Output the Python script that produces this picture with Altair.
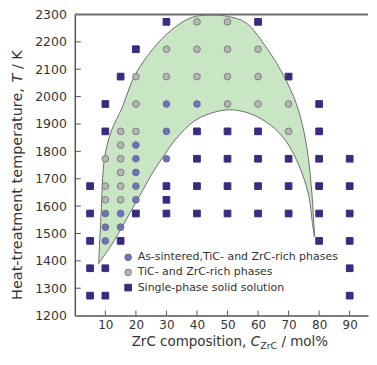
import altair as alt
import pandas as pd

FONT = "DejaVu Sans"

# ---------------- data ----------------
L_BLUE = "As-sintered,TiC- and ZrC-rich phases"
L_GRAY = "TiC- and ZrC-rich phases"
L_SQ = "Single-phase solid solution"

blue_x = [10, 10, 10, 15, 15, 20, 20, 20, 20, 20, 30, 30, 30, 40]
blue_y = [1473, 1523, 1573, 1523, 1573, 1623, 1673, 1723, 1773, 1823, 1773, 1873, 1973, 1973]

gray_x = [10, 10, 10, 15, 15, 15, 15, 15, 15, 20, 20, 20, 30, 30, 40, 40, 40,
          50, 50, 50, 50, 60, 60, 60, 70, 70]
gray_y = [1623, 1673, 1773, 1623, 1673, 1723, 1773, 1823, 1873, 1873, 1973, 2073,
          2073, 2173, 2073, 2173, 2273, 1973, 2073, 2173, 2273, 1973, 2073, 2173,
          1873, 1973]

sq_x = [5, 5, 5, 5, 5, 10, 10, 10, 10, 15, 15, 20, 20, 30, 30, 30, 30,
        40, 40, 40, 40, 50, 50, 50, 50, 60, 60, 60, 60, 60, 70, 70, 70, 70,
        80, 80, 80, 80, 80, 80, 90, 90, 90, 90, 90, 90]
sq_y = [1273, 1373, 1473, 1573, 1673, 1273, 1373, 1873, 1973, 1473, 2073, 1573, 2173,
        1573, 1623, 1673, 2273, 1573, 1673, 1773, 1873, 1573, 1673, 1773, 1873,
        1573, 1673, 1773, 1873, 2273, 1573, 1673, 1773, 2073,
        1473, 1573, 1673, 1773, 1873, 1973, 1273, 1373, 1473, 1573, 1673, 1773]

# two-phase region boundary (outer curve left tip -> right tip, then inner curve back)
outer_x = [7.8, 8.6, 9.7, 11.9, 15.5, 19.5, 25.5, 31.5, 38, 44, 50, 56, 63.1,
           68.5, 72.5, 75, 76.5, 77.6, 78.2, 78.5]
outer_y = [1390, 1570, 1773, 1873, 1960, 2074, 2173, 2242, 2288, 2298, 2293, 2270,
           2173, 2074, 1975, 1873, 1773, 1650, 1550, 1487]
inner_x = [77.8, 76.7, 74.5, 71.8, 68.5, 64.2, 57.6, 50.5, 44, 39, 33.1, 29.5,
           25.5, 21.1, 16.8, 12.4, 7.8]
inner_y = [1537, 1633, 1717, 1787, 1847, 1895, 1937, 1952, 1937, 1910, 1845, 1790,
           1722, 1635, 1550, 1465, 1390]

x_ticks = [10, 20, 30, 40, 50, 60, 70, 80, 90]
y_ticks = [1200, 1300, 1400, 1500, 1600, 1700, 1800, 1900, 2000, 2100, 2200, 2300]

# ---------------- layout ----------------
W, H = 294, 302
xs = alt.Scale(domain=[0, 96], nice=False, zero=False)
ys = alt.Scale(domain=[1200, 2300], nice=False, zero=False)

xaxis = alt.Axis(values=x_ticks, title=None, grid=False, ticks=False, tickSize=0,
                 labelPadding=4, labelFontSize=12, labelFont=FONT, format="d",
                 labelColor="#333333", domainColor="#555555", domainWidth=1.5)
yaxis = alt.Axis(values=y_ticks, title=None, grid=False, ticks=False, tickSize=0,
                 labelPadding=8.5, labelFontSize=12.5, labelFont=FONT, format="d",
                 labelColor="#333333", domainColor="#555555", domainWidth=1.5)

pts = pd.DataFrame({
    "x": blue_x + gray_x + sq_x,
    "y": blue_y + gray_y + sq_y,
    "phase": [L_BLUE] * len(blue_x) + [L_GRAY] * len(gray_x) + [L_SQ] * len(sq_x),
})
region = pd.DataFrame({
    "x": outer_x + inner_x,
    "y": outer_y + inner_y,
    "o": list(range(len(outer_x) + len(inner_x))),
})

dom = [L_BLUE, L_GRAY, L_SQ]
leg = alt.Legend(orient="none", legendX=48, legendY=238, title=None,
                 labelFont=FONT, labelFontSize=11, labelColor="#333333", labelLimit=0,
                 symbolSize=45, symbolStrokeWidth=1, rowPadding=3.2, labelOffset=4)

points = alt.Chart(pts).mark_point(filled=True, size=45, strokeWidth=1, opacity=1).encode(
    x=alt.X("x:Q", scale=xs, axis=xaxis),
    y=alt.Y("y:Q", scale=ys, axis=yaxis),
    shape=alt.Shape("phase:N", scale=alt.Scale(domain=dom, range=["circle", "circle", "square"]), legend=leg),
    fill=alt.Fill("phase:N", scale=alt.Scale(domain=dom, range=["#6a72c2", "#b5b5b5", "#3b2a80"]), legend=leg),
    stroke=alt.Stroke("phase:N", scale=alt.Scale(domain=dom, range=["#6d6d85", "#7d7d7d", "#3b2a80"]), legend=leg),
)

poly = alt.Chart(region).mark_line(fill="#c8e6c4", stroke="#6e6e6e", strokeWidth=1,
                                   interpolate="catmull-rom").encode(
    x=alt.X("x:Q", scale=xs, axis=xaxis),
    y=alt.Y("y:Q", scale=ys, axis=yaxis),
    order="o:Q",
)

top_rule = alt.Chart(pd.DataFrame({"y": [2300]})).mark_rule(color="#6e6e6e", strokeWidth=2).encode(
    y=alt.Y("y:Q", scale=ys, axis=yaxis))

ytick_rules = alt.Chart(pd.DataFrame({"y": y_ticks[1:-1]})).mark_rule(color="#555555", strokeWidth=1).encode(
    y=alt.Y("y:Q", scale=ys, axis=yaxis), x=alt.value(0), x2=alt.value(6))
xtick_rules = alt.Chart(pd.DataFrame({"x": x_ticks})).mark_rule(color="#555555", strokeWidth=1).encode(
    x=alt.X("x:Q", scale=xs, axis=xaxis), y=alt.value(H), y2=alt.value(H - 5))

# ---------------- axis titles built from text pieces ----------------
DW = {" ": 318, "%": 950, ",": 318, "-": 361, "/": 337, "C": 698, "H": 752, "K": 656,
      "T": 611, "Z": 685, "a": 613, "c": 550, "d": 635, "e": 615, "h": 634, "i": 278,
      "l": 278, "m": 974, "n": 634, "o": 612, "p": 635, "r": 411, "s": 521, "t": 392, "u": 634}


def tw(s, fs):
    return sum(DW.get(ch, 600) for ch in s) / 1000.0 * fs


def piece(text, x, y, fs, style="normal", angle=0, align="left"):
    return alt.Chart(pd.DataFrame({"s": [text]})).mark_text(
        font=FONT, fontSize=fs, fontStyle=style, angle=angle, align=align,
        baseline="alphabetic", color="#333333").encode(
        x=alt.value(x), y=alt.value(y), text="s:N")


# x title
fx, fsub = 13.5, 9.5
xp = ["ZrC composition,", "C", "ZrC", "/ mol%"]
sp = tw(" ", fx)
xw = [tw(xp[0], fx) + sp, tw(xp[1], fx), tw(xp[2], fsub) + sp, tw(xp[3], fx)]
x0 = 155.5 - sum(xw) / 2
xb = H + 30.5
xt = [
    piece(xp[0], x0, xb, fx),
    piece(xp[1], x0 + xw[0], xb, fx, style="italic"),
    piece(xp[2], x0 + xw[0] + xw[1], xb + 2.5, fsub),
    piece(xp[3], x0 + xw[0] + xw[1] + xw[2], xb, fx),
]

# y title (rotated, reading upward)
fy = 14.5
ysp = tw(" ", fy)
yp = ["Heat-treatment temperature,", "T", "/ K"]
yw = [tw(yp[0], fy) + ysp, tw(yp[1], fy) + ysp, tw(yp[2], fy)]
y0 = 161 + sum(yw) / 2
yx = -53
yt = [
    piece(yp[0], yx, y0, fy, angle=270),
    piece(yp[1], yx, y0 - yw[0], fy, style="italic", angle=270),
    piece(yp[2], yx, y0 - yw[0] - yw[1], fy, angle=270),
]

chart = alt.layer(poly, top_rule, ytick_rules, xtick_rules, points, *xt, *yt).properties(
    width=W, height=H, padding={"left": 1, "top": 0, "right": 0, "bottom": 0}
).configure_view(stroke=None)

chart.save("out.html", embed_options={"renderer": "svg", "actions": False})
